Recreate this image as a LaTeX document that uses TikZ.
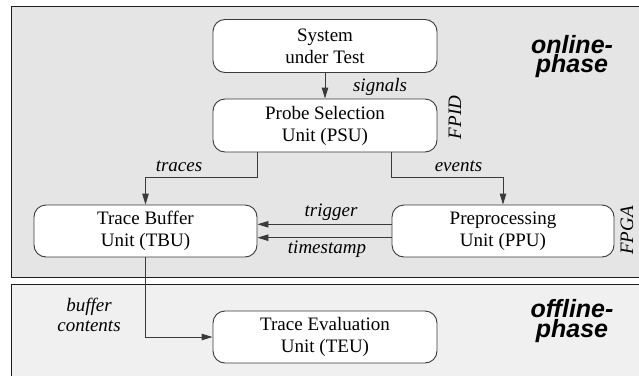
\documentclass[tikz,border=0pt]{standalone}
\usepackage{fontspec}
\setmainfont{Liberation Serif}
\newfontfamily\phasefont{Liberation Sans}
\usetikzlibrary{arrows.meta}

\definecolor{onlinebg}{HTML}{E5E5E5}
\definecolor{offlinebg}{HTML}{F0F0F0}
\definecolor{edge}{HTML}{3A3A3A}
\definecolor{frame}{HTML}{1E1E1E}

\tikzset{
  unitbox/.style={draw=edge, fill=white, line width=0.9pt, rounded corners=12pt,
    minimum width=224pt, minimum height=53pt, inner sep=0pt, align=center,
    font=\fontsize{19}{22}\selectfont},
  flowarrow/.style={draw=edge, line width=0.9pt, -{Triangle[length=11pt,width=6.5pt]}},
  flowlabel/.style={font=\fontsize{19}{20.5}\selectfont\itshape, inner sep=0pt, anchor=base, align=center},
  chiplabel/.style={font=\fontsize{19}{21}\selectfont\itshape, inner sep=0pt, anchor=base, rotate=90},
  phaselabel/.style={font=\fontsize{25}{19}\selectfont\phasefont\bfseries\itshape, inner sep=0pt,
    anchor=base, align=center},
  panel/.style={draw=frame, line width=1.2pt}
}

\begin{document}
\begin{tikzpicture}[x=1pt, y=-1pt]
  \path[use as bounding box, clip] (0,0) rectangle (639,375);

  % the two phase panels
  \path[panel, fill=onlinebg] (11.3,6.7) rectangle (660,277.5);
  \path[panel, fill=offlinebg] (11.3,284.3) rectangle (660,400);

  % units
  \node[unitbox] (sut) at (325,46) {System\\under Test};
  \node[unitbox] (psu) at (325,125.5) {Probe Selection\\Unit (PSU)};
  \node[unitbox, minimum width=223pt, minimum height=52pt] (tbu) at (145.5,231) {Trace Buffer\\Unit (TBU)};
  \node[unitbox, minimum width=222pt, minimum height=52pt] (ppu) at (503,231) {Preprocessing\\Unit (PPU)};
  \node[unitbox, minimum height=52pt] (teu) at (325,337) {Trace Evaluation\\Unit (TEU)};

  \coordinate (split) at (325,177.7);

  % data flow
  \draw[flowarrow] (sut) -- (psu);
  \draw[flowarrow] (tbu.east |- psu.south) |- (tbu.north |- split) -- (tbu.north);
  \draw[flowarrow] (ppu.west |- psu.south) |- (ppu.north |- split) -- (ppu.north);
  \draw[flowarrow] ([yshift=6.7pt]ppu.west) -- ([yshift=6.7pt]tbu.east);
  \draw[flowarrow] ([yshift=-6.7pt]ppu.west) -- ([yshift=-6.7pt]tbu.east);
  \draw[flowarrow] (tbu.south) |- (teu.west);

  % connector labels (multi-line labels sit on the baseline of their last line)
  \node[flowlabel] (lsig) at (380,91) {signals};
  \node[flowlabel] (ltr) at (179,171.5) {traces};
  \node[flowlabel] (lev) at (458.5,171.5) {events};
  \node[flowlabel] (ltrig) at (331,216.5) {trigger};
  \node[flowlabel] (lts) at (327,253) {timestamp};
  \node[flowlabel] (lbuf) at (89,331.5) {buffer\\contents};

  % hardware labels
  \node[chiplabel] (fpid) at (461,117.5) {FPID};
  \node[chiplabel] (fpga) at (633,230.5) {FPGA};

  % phase titles
  \node[phaselabel] (online) at (572,72) {online-\\phase};
  \node[phaselabel, font=\fontsize{25}{17}\selectfont\phasefont\bfseries\itshape] (offline) at (572,337) {offline-\\phase};
\end{tikzpicture}
\end{document}
